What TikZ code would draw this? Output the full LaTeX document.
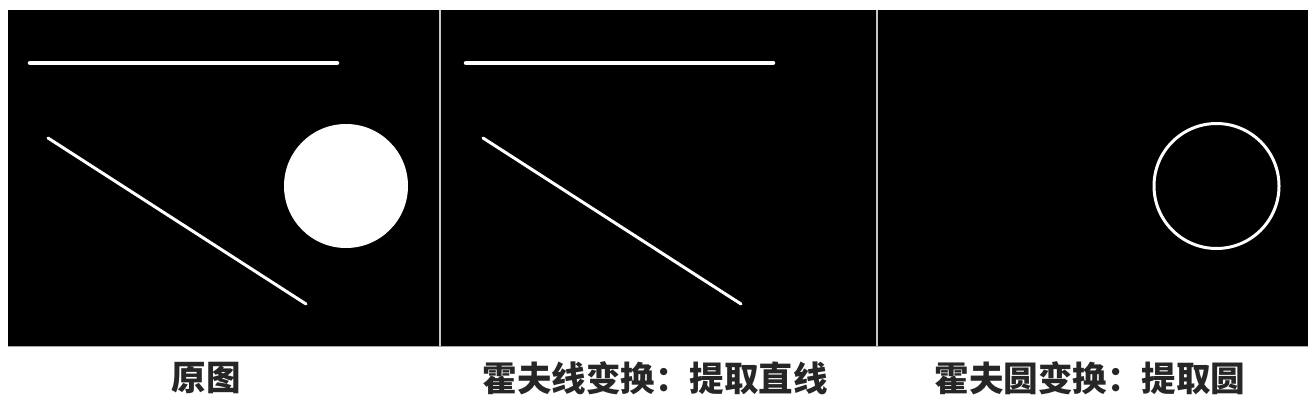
\documentclass[tikz,border=0pt]{standalone}
\usepackage{fontspec}
\newfontfamily\cjk{Noto Sans CJK SC}
\begin{document}
\begin{tikzpicture}[x=1pt,y=-1pt,
  panel/.style={fill=black,draw=none},
  sep/.style={draw=black!22,line width=1.6pt},
  wline/.style={draw=white,line cap=round},
  caption/.style={font=\cjk\bfseries\fontsize{34.5}{37}\selectfont,text=black!85,inner sep=0pt,anchor=center}]
\useasboundingbox[fill=white] (0,0) rectangle (1314,412);
% black image area
\path[panel] (8,10) rectangle (1308,346);
\draw[draw=black!35,line width=0.8pt] (8,346) -- (1308,346);
% separators
\draw[sep] (440,10) -- (440,346);
\draw[sep] (877,10) -- (877,346);
% panel 1: original
\draw[wline,line width=4.5pt] (30,63) -- (337,63);
\draw[wline,line width=3pt] (48,138) -- (306,304);
\fill[white] (346,186) circle[radius=62];
% panel 2: lines
\draw[wline,line width=4.5pt] (466,63) -- (773,63);
\draw[wline,line width=3pt] (483,138) -- (741,304);
% panel 3: circle
\draw[white,line width=3pt] (1216.5,186) circle[radius=62.5];
% captions
\node[caption] (c1) at (206,378) {原图};
\node[caption] (c2) at (655,378) {霍夫线变换：提取直线};
\node[caption] (c3) at (1090,378) {霍夫圆变换：提取圆};
\end{tikzpicture}
\end{document}
